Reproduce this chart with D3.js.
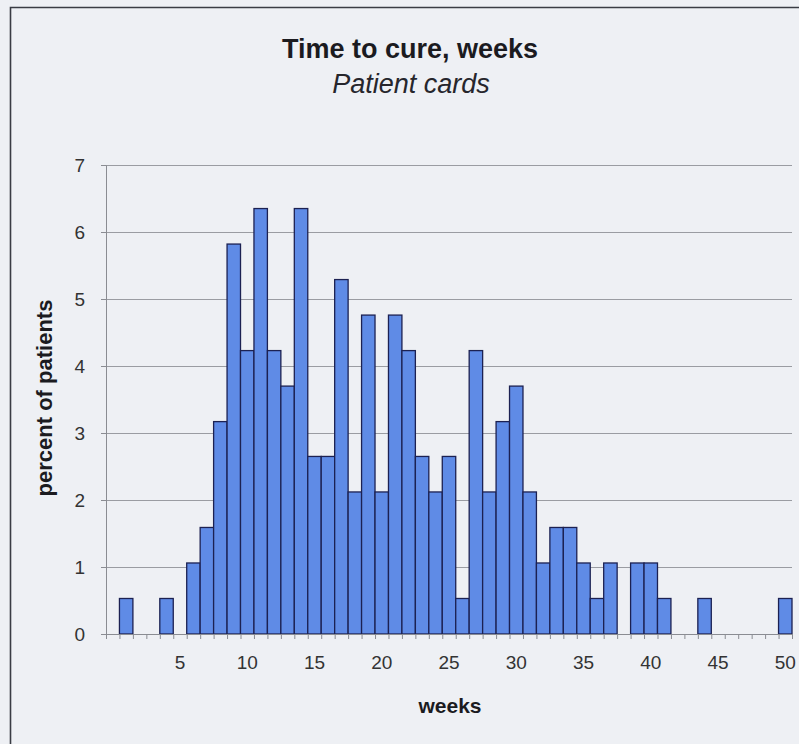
<!DOCTYPE html>
<html>
<head>
<meta charset="utf-8">
<script src="https://cdn.jsdelivr.net/npm/d3@7"></script>
<style>
  body { margin: 0; background: #eef0f4; }
  svg { display: block; font-family: "Liberation Sans", Arial, sans-serif; }
</style>
</head>
<body>
<svg width="799" height="744"></svg>
<script>
// weeks 0..50
const weeks = [0, 1, 2, 3, 4, 5, 6, 7, 8, 9, 10, 11, 12, 13, 14, 15, 16, 17, 18, 19, 20,
  21, 22, 23, 24, 25, 26, 27, 28, 29, 30, 31, 32, 33, 34, 35, 36, 37, 38, 39, 40,
  41, 42, 43, 44, 45, 46, 47, 48, 49, 50]
// percent of patients per week
const percent = [0, 0.53, 0, 0, 0.53, 0, 1.06, 1.59, 3.17, 5.82, 4.23, 6.35, 4.23, 3.70, 6.35,
  2.65, 2.65, 5.29, 2.12, 4.76, 2.12, 4.76, 4.23, 2.65, 2.12, 2.65, 0.53, 4.23, 2.12, 3.17,
  3.70, 2.12, 1.06, 1.59, 1.59, 1.06, 0.53, 1.06, 0, 1.06, 1.06, 0.53, 0, 0, 0.53,
  0, 0, 0, 0, 0, 0.53]
const xLabels = [5, 10, 15, 20, 25, 30, 35, 40, 45, 50]
const yTicks = [0, 1, 2, 3, 4, 5, 6, 7]

const data = weeks.map((w, i) => ({week: w, value: percent[i]}))

const svg = d3.select('svg'),
    margin = {top: 165, right: 7, bottom: 110, left: 106},
    width = svg.attr('width') - margin.left - margin.right,
    height = svg.attr('height') - margin.top - margin.bottom,
    x = d3.scaleBand().domain(weeks).range([0, width]).padding(0),
    xEdge = d3.scaleLinear().domain([0, weeks.length]).range([0, width]),
    y = d3.scaleLinear().domain([0, 7]).range([height, 0])

// frame
svg.append('path')
    .attr('d', 'M10.5,744 V7.5 H799')
    .attr('fill', 'none')
    .attr('stroke', '#3a3c44')
    .attr('stroke-width', 1.6)

svg.append('text')
    .attr('x', 410).attr('y', 58)
    .attr('text-anchor', 'middle')
    .attr('font-size', 27).attr('font-weight', 'bold')
    .attr('fill', '#1b1b1f')
    .text('Time to cure, weeks')

svg.append('text')
    .attr('x', 411).attr('y', 93)
    .attr('text-anchor', 'middle')
    .attr('font-size', 27).attr('font-style', 'italic')
    .attr('fill', '#26262c')
    .text('Patient cards')

const g = svg.append('g')
    .attr('transform', `translate(${margin.left}, ${margin.top})`)

// gridlines
g.append('g')
    .attr('class', 'grid')
    .call(d3.axisLeft(y).tickValues(yTicks.slice(1)).tickSize(-width).tickFormat(''))
    .call(a => a.select('.domain').remove())
    .selectAll('line').attr('stroke', '#9a9ca2').attr('stroke-width', 1)

// y axis
g.append('g')
    .attr('class', 'axis axis-y')
    .call(d3.axisLeft(y).tickValues(yTicks).tickFormat(d3.format('d')).tickSize(5).tickPadding(16))
    .call(a => a.select('.domain').attr('stroke', '#8a8c92'))
    .call(a => a.selectAll('line').attr('stroke', '#8a8c92'))
    .selectAll('text').attr('font-size', 19).attr('fill', '#333')
    .attr('font-family', '"Liberation Sans", Arial, sans-serif')

// bars
g.selectAll('.bar')
    .data(data.filter(d => d.value > 0))
    .enter().append('rect')
    .attr('class', 'bar')
    .attr('x', d => x(d.week))
    .attr('y', d => y(d.value))
    .attr('width', x.bandwidth())
    .attr('height', d => height - y(d.value))
    .attr('fill', '#5f8be6')
    .attr('stroke', '#1c2152')
    .attr('stroke-width', 1.3)

// x axis ticks at category edges
g.append('g')
    .attr('class', 'axis axis-x')
    .attr('transform', `translate(0, ${height})`)
    .call(d3.axisBottom(xEdge).tickValues(d3.range(0, weeks.length + 1)).tickSize(5).tickFormat(''))
    .call(a => a.select('.domain').attr('stroke', '#8a8c92'))
    .call(a => a.selectAll('line').attr('stroke', '#8a8c92'))

// x labels at category centres
g.append('g')
    .attr('transform', `translate(0, ${height})`)
    .call(d3.axisBottom(x).tickValues(xLabels).tickSize(0).tickPadding(22))
    .call(a => a.select('.domain').remove())
    .selectAll('text').attr('font-size', 19).attr('fill', '#333')
    .attr('font-family', '"Liberation Sans", Arial, sans-serif')

svg.append('text')
    .attr('x', 450).attr('y', 713)
    .attr('text-anchor', 'middle')
    .attr('font-size', 21).attr('font-weight', 'bold')
    .attr('fill', '#1b1b1f')
    .text('weeks')

svg.append('text')
    .attr('transform', 'translate(52, 398) rotate(-90)')
    .attr('text-anchor', 'middle')
    .attr('font-size', 22).attr('font-weight', 'bold')
    .attr('fill', '#1b1b1f')
    .text('percent of patients')
</script>
</body>
</html>
